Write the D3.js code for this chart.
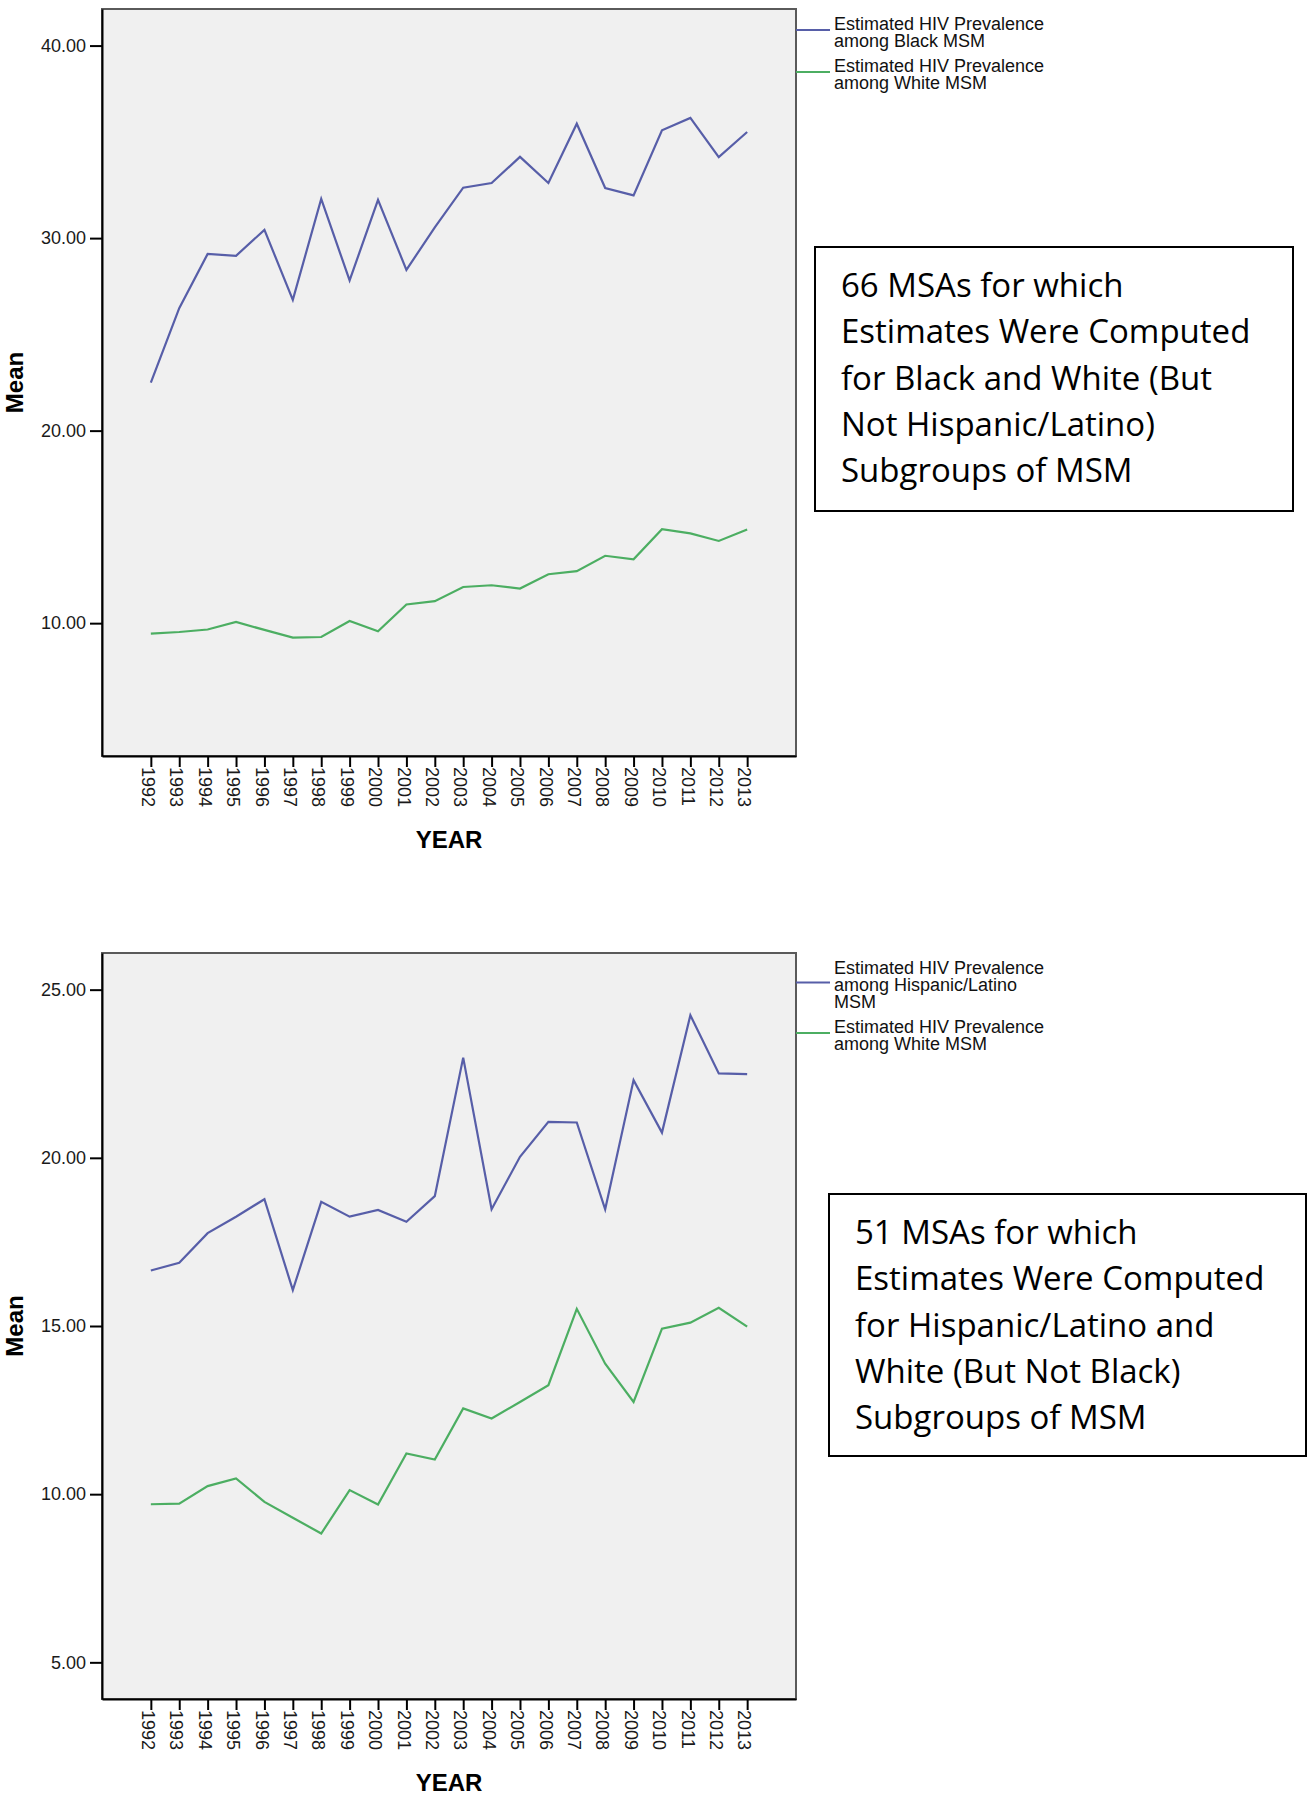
<!DOCTYPE html>
<html>
<head>
<meta charset="utf-8">
<script src="https://cdn.jsdelivr.net/npm/d3@7"></script>
<style>
  body { margin: 0; background: #fff; }
  svg { display: block; }
</style>
</head>
<body>
<div id="chart"></div>
<script>
const years = [1992, 1993, 1994, 1995, 1996, 1997, 1998, 1999, 2000, 2001, 2002,
  2003, 2004, 2005, 2006, 2007, 2008, 2009, 2010, 2011, 2012, 2013]

// panel 1: 66 MSAs, black vs white
const blackMSM = [22.49, 26.36, 29.18, 29.08, 30.43, 26.79, 32.04, 27.80, 31.99, 28.35, 30.56,
  32.62, 32.86, 34.22, 32.86, 35.94, 32.60, 32.22, 35.60, 36.24, 34.21, 35.51]
const whiteMSM1 = [9.46, 9.54, 9.67, 10.06, 9.65, 9.25, 9.28, 10.11, 9.58, 10.97, 11.14,
  11.88, 11.97, 11.80, 12.54, 12.70, 13.50, 13.32, 14.88, 14.66, 14.27, 14.87]

// panel 2: 51 MSAs, hispanic/latino vs white
const hispanicMSM = [16.65, 16.88, 17.76, 18.25, 18.77, 16.07, 18.69, 18.25, 18.45, 18.10, 18.86,
  22.98, 18.47, 20.03, 21.07, 21.05, 18.47, 22.31, 20.75, 24.24, 22.51, 22.49]
const whiteMSM2 = [9.70, 9.72, 10.24, 10.47, 9.77, 9.30, 8.83, 10.12, 9.69, 11.21, 11.03,
  12.55, 12.25, 12.74, 13.24, 15.51, 13.88, 12.74, 14.92, 15.10, 15.54, 14.98]

const yTicks1 = [10, 20, 30, 40]
const yTicks2 = [5, 10, 15, 20, 25]

const legend1 = [
  ['Estimated HIV Prevalence', 'among Black MSM'],
  ['Estimated HIV Prevalence', 'among White MSM'],
]
const legend2 = [
  ['Estimated HIV Prevalence', 'among Hispanic/Latino', 'MSM'],
  ['Estimated HIV Prevalence', 'among White MSM'],
]

const note1 = ['66 MSAs for which', 'Estimates Were Computed', 'for Black and White (But',
  'Not Hispanic/Latino)', 'Subgroups of MSM']
const note2 = ['51 MSAs for which', 'Estimates Were Computed', 'for Hispanic/Latino and',
  'White (But Not Black)', 'Subgroups of MSM']

const colors = ['#575ea8', '#4cae62']

const draw = () => {
  const svg = d3.select('#chart')
    .append('svg')
    .attr('width', 1309)
    .attr('height', 1800)

  const left = 102
  const right = 796
  const pitch = 17

  const panel = ({ top, bottom, domain, ticks, series, legend, note }) => {
    const g = svg.append('g')

    const x = d3.scalePoint()
      .domain(years)
      .range([left, right])
      .padding(1.72)

    const y = d3.scaleLinear()
      .domain(domain)
      .range([bottom, top])

    g.append('rect')
      .attr('x', left)
      .attr('y', top)
      .attr('width', right - left)
      .attr('height', bottom - top)
      .attr('fill', '#f0f0f0')
      .attr('stroke', '#5a5a5a')
      .attr('stroke-width', 2)

    const line = d3.line()
      .x((d, i) => x(years[i]))
      .y((d) => y(d))

    series.forEach((values, i) => {
      g.append('path')
        .datum(values)
        .attr('d', line)
        .attr('fill', 'none')
        .attr('stroke', colors[i])
        .attr('stroke-width', 2.2)
        .attr('stroke-linejoin', 'miter')
    })

    const yAxis = g.append('g')
      .attr('transform', `translate(${left},0)`)
      .call(d3.axisLeft(y).tickValues(ticks).tickFormat(d3.format('.2f')).tickSize(12).tickSizeOuter(0).tickPadding(4))
    yAxis.select('.domain').attr('stroke', '#000').attr('stroke-width', 2)
    yAxis.selectAll('.tick line').attr('stroke', '#000').attr('stroke-width', 2)
    yAxis.selectAll('text')
      .attr('fill', '#1a1a1a')
      .style('font', '18px "Liberation Sans", Arial, sans-serif')

    const xAxis = g.append('g')
      .attr('transform', `translate(0,${bottom})`)
      .call(d3.axisBottom(x).tickSize(11).tickSizeOuter(0))
    xAxis.select('.domain').attr('stroke', '#000').attr('stroke-width', 2)
    xAxis.selectAll('.tick line').attr('stroke', '#000').attr('stroke-width', 2)
    xAxis.selectAll('text')
      .attr('transform', 'rotate(90)')
      .attr('x', 11)
      .attr('y', 3)
      .attr('dy', '0.35em')
      .attr('fill', '#1a1a1a')
      .style('text-anchor', 'start')
      .style('font', '18px "Liberation Sans", Arial, sans-serif')

    g.append('text')
      .attr('transform', `translate(23,${(top + bottom) / 2}) rotate(-90)`)
      .attr('text-anchor', 'middle')
      .style('font', 'bold 24px "Liberation Sans", Arial, sans-serif')
      .text('Mean')

    g.append('text')
      .attr('x', (left + right) / 2)
      .attr('y', bottom + 92)
      .attr('text-anchor', 'middle')
      .style('font', 'bold 24px "Liberation Sans", Arial, sans-serif')
      .text('YEAR')

    // legend, stacked from the top right of the frame
    let blockTop = top + 4
    legend.forEach((lines, i) => {
      const n = lines.length
      const cy = blockTop + n * pitch / 2
      g.append('line')
        .attr('x1', right)
        .attr('x2', right + 34)
        .attr('y1', cy)
        .attr('y2', cy)
        .attr('stroke', colors[i])
        .attr('stroke-width', 2)
      g.append('text')
        .style('font', '18px "Liberation Sans", Arial, sans-serif')
        .attr('fill', '#111')
        .selectAll('tspan')
        .data(lines)
        .enter()
        .append('tspan')
        .attr('x', right + 38)
        .attr('y', (d, j) => cy + 8 - (n - 1) * pitch / 2 + j * pitch)
        .text((d) => d)
      blockTop += n * pitch + 8
    })

    const box = g.append('g')
    box.append('rect')
      .attr('x', note.x)
      .attr('y', note.y)
      .attr('width', note.w)
      .attr('height', note.h)
      .attr('fill', '#fff')
      .attr('stroke', '#000')
      .attr('stroke-width', 2)
    box.append('text')
      .style('font', '33px "Open Sans", sans-serif')
      .attr('fill', '#000')
      .selectAll('tspan')
      .data(note.lines)
      .enter()
      .append('tspan')
      .attr('x', note.x + 26)
      .attr('y', (d, j) => note.y + 50 + j * 46.3)
      .text((d) => d)
  }

  panel({
    top: 9,
    bottom: 756,
    domain: [3.1, 41.9],
    ticks: yTicks1,
    series: [blackMSM, whiteMSM1],
    legend: legend1,
    note: { x: 815, y: 247, w: 478, h: 264, lines: note1 },
  })

  panel({
    top: 953,
    bottom: 1699,
    domain: [3.91, 26.09],
    ticks: yTicks2,
    series: [hispanicMSM, whiteMSM2],
    legend: legend2,
    note: { x: 829, y: 1194, w: 477, h: 262, lines: note2 },
  })
}

draw()
</script>
</body>
</html>
